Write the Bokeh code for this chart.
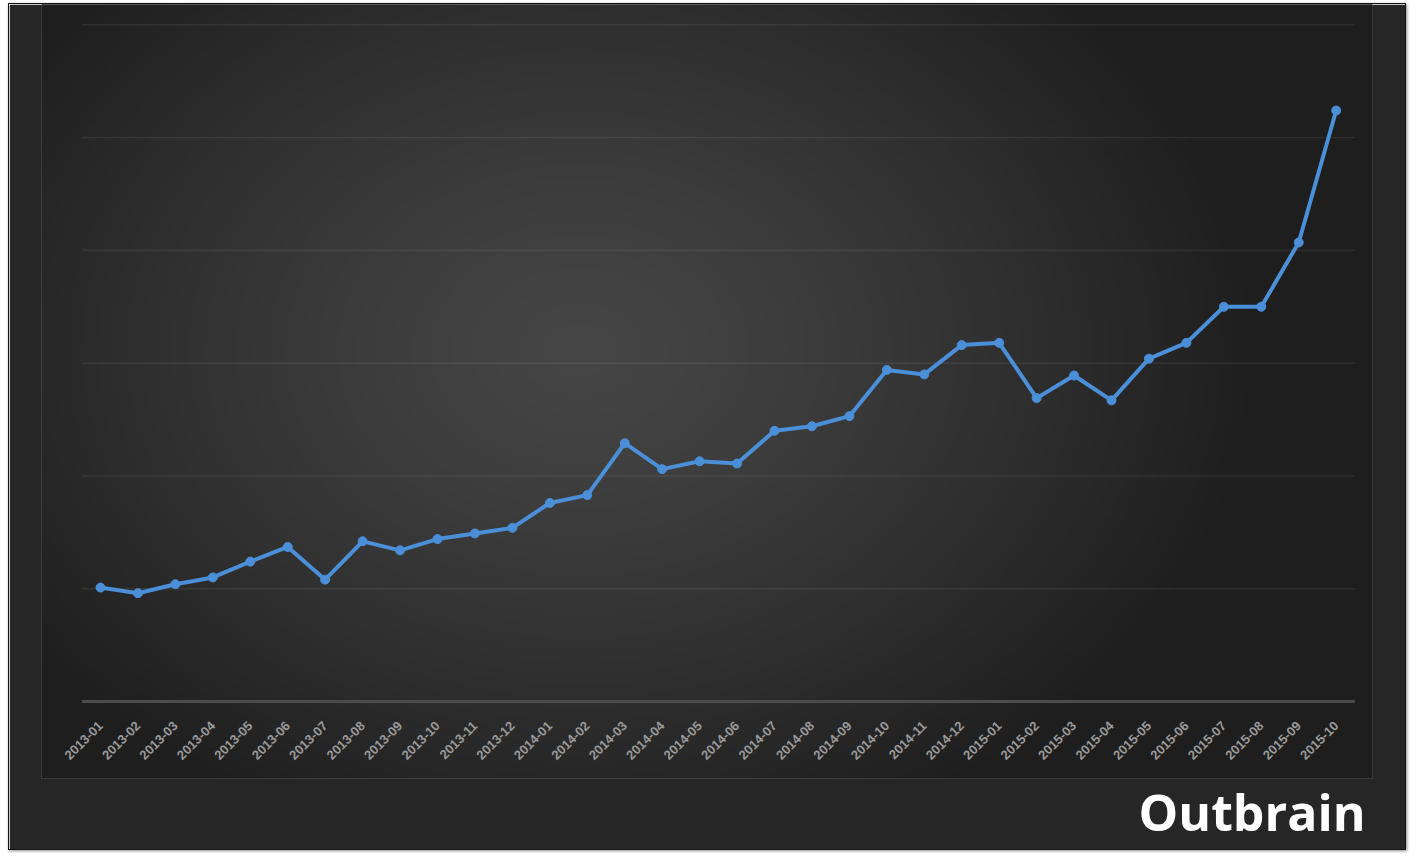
import numpy as np
from bokeh.plotting import figure
from bokeh.models import Range1d, Title, FixedTicker
from bokeh.embed import file_html
from bokeh.resources import INLINE

months = ["2013-01", "2013-02", "2013-03", "2013-04", "2013-05", "2013-06",
          "2013-07", "2013-08", "2013-09", "2013-10", "2013-11", "2013-12",
          "2014-01", "2014-02", "2014-03", "2014-04", "2014-05", "2014-06",
          "2014-07", "2014-08", "2014-09", "2014-10", "2014-11", "2014-12",
          "2015-01", "2015-02", "2015-03", "2015-04", "2015-05", "2015-06",
          "2015-07", "2015-08", "2015-09", "2015-10"]
values = [1.01, 0.96, 1.04, 1.10, 1.24, 1.37, 1.08, 1.42, 1.34, 1.44, 1.49, 1.54,
          1.76, 1.83, 2.29, 2.06, 2.13, 2.11, 2.40, 2.44, 2.53, 2.94, 2.90, 3.16,
          3.18, 2.69, 2.89, 2.67, 3.04, 3.18, 3.50, 3.50, 4.07, 5.24]
grid_values = [1, 2, 3, 4, 5, 6]
logo_text = "Outbrain"

idx = list(range(len(months)))
n = len(months)

W, H = 1398, 847
ML, MR, MT, MB = 32, 35, 0, 73
OX, OY = 9, 4  # page offset of the figure content (margin + border)
X0, X1 = -1.576, n - 1 + 0.97
Y0, Y1 = -0.683, 6.18

p = figure(width=W, height=H, output_backend="svg", toolbar_location=None,
           x_range=Range1d(X0, X1), y_range=Range1d(Y0, Y1),
           min_border_left=ML, min_border_right=MR, min_border_top=MT,
           min_border_bottom=MB, border_fill_color="#262626",
           background_fill_color="#1e1e1e", outline_line_color=None,
           styles={"margin-left": "8px", "margin-top": "3px",
                   "border": "1px solid #111",
                   "box-shadow": "1px 1px 3px rgba(0,0,0,0.45)"})

# radial background gradient over the inner chart area
fw, fh = W - ML - MR, H - MT - MB
nx, ny = 360, 220
px = OX + ML + (np.arange(nx) + 0.5) * fw / nx
py = OY + MT + fh - (np.arange(ny) + 0.5) * fh / ny
PX, PY = np.meshgrid(px, py)
d = np.sqrt(((PX - 580) / 680.0) ** 2 + ((PY - 350) / 520.0) ** 2)
t = np.clip(d, 0, 1)
v = (70 - 40 * t ** 1.25).astype(np.uint32)
img = (255 << 24) | (v << 16) | (v << 8) | v
p.image_rgba(image=[img.astype(np.uint32)], x=X0 - 0.05, y=Y0 - 0.02,
             dw=X1 - X0 + 0.1, dh=Y1 - Y0 + 0.04, level="image")

# horizontal gridlines and the category axis line, spanning the categories
p.grid.visible = False
p.segment(x0=[-0.5] * len(grid_values), x1=[n - 0.5] * len(grid_values),
          y0=grid_values, y1=grid_values, line_color="white", line_alpha=0.07,
          line_width=1.5)
p.segment(x0=[-0.5], x1=[n - 0.5], y0=[0], y1=[0], line_color="#4c4c4c",
          line_width=3)
p.yaxis.visible = False

ax = p.xaxis[0]
ax.fixed_location = 0
ax.ticker = FixedTicker(ticks=idx)
ax.major_label_overrides = {i: m for i, m in zip(idx, months)}
ax.axis_line_color = None
ax.major_tick_line_color = None
ax.minor_tick_line_color = None
ax.major_label_orientation = np.pi / 4
ax.major_label_standoff = 16
ax.major_label_text_color = "#9a9a9a"
ax.major_label_text_font = "Liberation Sans"
ax.major_label_text_font_style = "bold"
ax.major_label_text_font_size = "13px"

p.line(idx, values, line_color="#4a8fd8", line_width=4)
p.scatter(idx, values, size=9, fill_color="#4a8fd8", line_color="#4a8fd8")

p.add_layout(Title(text=logo_text, align="right", offset=7, standoff=-5,
                   text_color="white", text_font="Open Sans",
                   text_font_size="50px", text_font_style="bold"), "below")

open("out.html", "w").write(file_html(p, INLINE))
